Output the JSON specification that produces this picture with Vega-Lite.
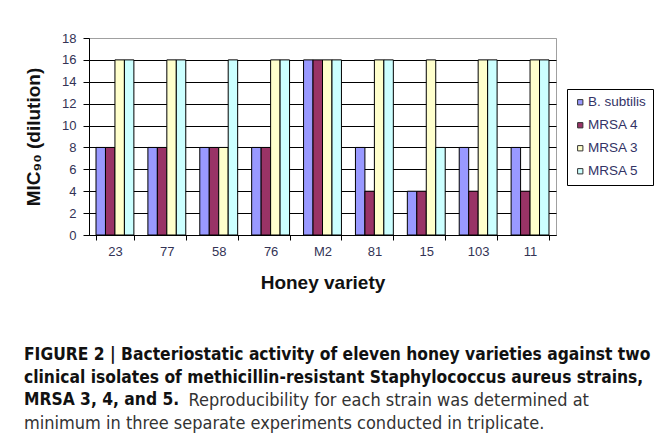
{
  "$schema": "https://vega.github.io/schema/vega-lite/v6.json",
  "width": 467,
  "height": 197,
  "autosize": {"type": "none"},
  "padding": {"left": 89, "top": 38, "right": 105, "bottom": 210},
  "background": "white",
  "data": {
    "values": [
      {"variety": "23", "strain": "B. subtilis", "value": 8},
      {"variety": "23", "strain": "MRSA 4", "value": 8},
      {"variety": "23", "strain": "MRSA 3", "value": 16},
      {"variety": "23", "strain": "MRSA 5", "value": 16},
      {"variety": "77", "strain": "B. subtilis", "value": 8},
      {"variety": "77", "strain": "MRSA 4", "value": 8},
      {"variety": "77", "strain": "MRSA 3", "value": 16},
      {"variety": "77", "strain": "MRSA 5", "value": 16},
      {"variety": "58", "strain": "B. subtilis", "value": 8},
      {"variety": "58", "strain": "MRSA 4", "value": 8},
      {"variety": "58", "strain": "MRSA 3", "value": 8},
      {"variety": "58", "strain": "MRSA 5", "value": 16},
      {"variety": "76", "strain": "B. subtilis", "value": 8},
      {"variety": "76", "strain": "MRSA 4", "value": 8},
      {"variety": "76", "strain": "MRSA 3", "value": 16},
      {"variety": "76", "strain": "MRSA 5", "value": 16},
      {"variety": "M2", "strain": "B. subtilis", "value": 16},
      {"variety": "M2", "strain": "MRSA 4", "value": 16},
      {"variety": "M2", "strain": "MRSA 3", "value": 16},
      {"variety": "M2", "strain": "MRSA 5", "value": 16},
      {"variety": "81", "strain": "B. subtilis", "value": 8},
      {"variety": "81", "strain": "MRSA 4", "value": 4},
      {"variety": "81", "strain": "MRSA 3", "value": 16},
      {"variety": "81", "strain": "MRSA 5", "value": 16},
      {"variety": "15", "strain": "B. subtilis", "value": 4},
      {"variety": "15", "strain": "MRSA 4", "value": 4},
      {"variety": "15", "strain": "MRSA 3", "value": 16},
      {"variety": "15", "strain": "MRSA 5", "value": 8},
      {"variety": "103", "strain": "B. subtilis", "value": 8},
      {"variety": "103", "strain": "MRSA 4", "value": 4},
      {"variety": "103", "strain": "MRSA 3", "value": 16},
      {"variety": "103", "strain": "MRSA 5", "value": 16},
      {"variety": "11", "strain": "B. subtilis", "value": 8},
      {"variety": "11", "strain": "MRSA 4", "value": 4},
      {"variety": "11", "strain": "MRSA 3", "value": 16},
      {"variety": "11", "strain": "MRSA 5", "value": 16}
    ]
  },
  "mark": {"type": "bar", "stroke": "black", "strokeWidth": 1},
  "encoding": {
    "x": {
      "field": "variety",
      "type": "nominal",
      "sort": ["23", "77", "58", "76", "M2", "81", "15", "103", "11"],
      "scale": {"paddingInner": 0.27, "paddingOuter": 0.135},
      "title": "Honey variety",
      "axis": {
        "labelAngle": 0,
        "tickBand": "extent",
        "domainColor": "black",
        "tickColor": "black",
        "tickSize": 5,
        "labelPadding": 5,
        "labelFont": "Liberation Sans",
        "labelFontSize": 13,
        "labelColor": "#333355",
        "titleFont": "Liberation Sans",
        "titleFontSize": 19,
        "titleFontWeight": "bold",
        "titleColor": "#111",
        "titlePadding": 15
      }
    },
    "xOffset": {
      "field": "strain",
      "type": "nominal",
      "sort": ["B. subtilis", "MRSA 4", "MRSA 3", "MRSA 5"],
      "scale": {"paddingInner": 0, "paddingOuter": 0}
    },
    "y": {
      "field": "value",
      "type": "quantitative",
      "scale": {"domain": [0, 18], "nice": false},
      "title": "MIC₉₀ (dilution)",
      "axis": {
        "values": [0, 2, 4, 6, 8, 10, 12, 14, 16, 18],
        "grid": true,
        "gridColor": {"condition": {"test": "datum.value === 18", "value": "#a0a0a0"}, "value": "black"},
        "gridOpacity": 1,
        "domainColor": "black",
        "tickColor": "black",
        "tickSize": 6,
        "labelPadding": 7,
        "labelFont": "Liberation Sans",
        "labelFontSize": 13,
        "labelColor": "#333355",
        "titleFont": "Liberation Sans",
        "titleFontSize": 19,
        "titleFontWeight": "bold",
        "titleColor": "#111",
        "titlePadding": 18
      }
    },
    "color": {
      "field": "strain",
      "type": "nominal",
      "scale": {
        "domain": ["B. subtilis", "MRSA 4", "MRSA 3", "MRSA 5"],
        "range": ["#9999FF", "#993366", "#FFFFCC", "#CCFFFF"]
      },
      "legend": {
        "title": null,
        "orient": "none",
        "legendX": 478,
        "legendY": 51,
        "strokeColor": "black",
        "fillColor": "white",
        "padding": 6.5,
        "symbolType": "square",
        "symbolSize": 28,
        "symbolStrokeColor": "#333",
        "symbolStrokeWidth": 1,
        "labelFont": "Liberation Sans",
        "labelFontSize": 13.5,
        "labelColor": "#333366",
        "labelOffset": 1,
        "rowPadding": 8
      }
    }
  },
  "title": {
    "text": [
      "FIGURE 2 | Bacteriostatic activity of eleven honey varieties against two",
      "clinical isolates of methicillin-resistant Staphylococcus aureus strains,",
      "MRSA 3, 4, and 5."
    ],
    "subtitle": [
      "\u200b\u00a0\u00a0\u00a0\u00a0\u00a0\u00a0\u00a0\u00a0\u00a0\u00a0\u00a0\u00a0\u00a0\u00a0\u00a0\u00a0\u00a0\u00a0\u00a0\u00a0\u00a0\u00a0\u00a0\u00a0\u00a0\u00a0\u00a0\u00a0\u00a0\u00a0\u00a0\u00a0Reproducibility for each strain was determined at",
      "minimum in three separate experiments conducted in triplicate."
    ],
    "orient": "bottom",
    "anchor": "start",
    "frame": "group",
    "dx": -65,
    "offset": 54,
    "font": "DejaVu Sans Condensed",
    "fontSize": 17.3,
    "fontWeight": "bold",
    "lineHeight": 22.7,
    "color": "#111",
    "subtitleFont": "DejaVu Sans Condensed",
    "subtitleFontSize": 18,
    "subtitleLineHeight": 22.7,
    "subtitlePadding": -16.5,
    "subtitleColor": "#333"
  },
  "config": {"view": {"stroke": "#a0a0a0"}}
}
